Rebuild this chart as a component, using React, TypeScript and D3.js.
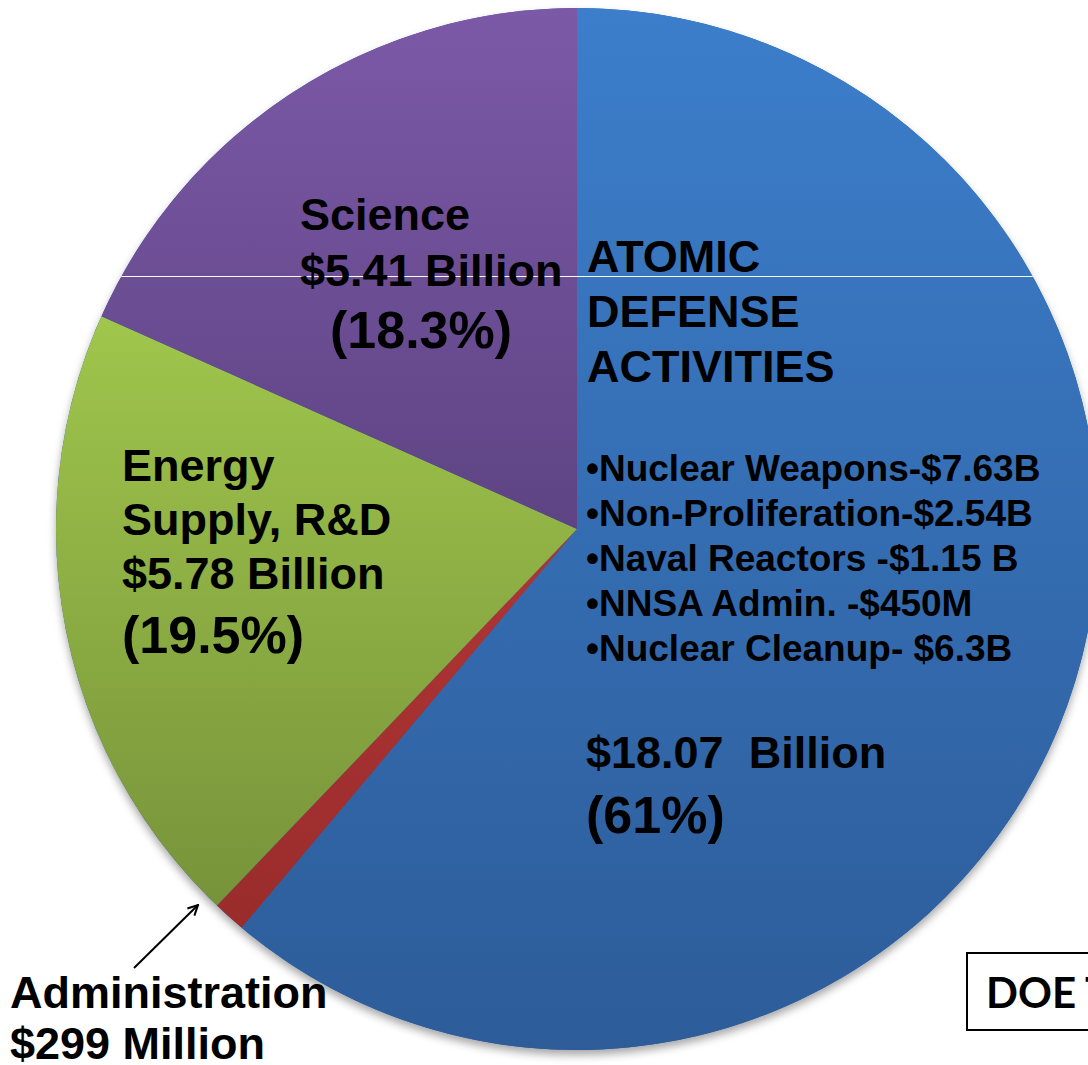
import React from "react";
import * as d3 from "d3";

const categories = ["Atomic Defense Activities", "Administration", "Energy Supply, R&D", "Science"];
const values = [18.07, 0.299, 5.78, 5.41];
const topColors = ["#3C7ECB", "#B03535", "#A0C64C", "#7C59A7"];
const bottomColors = ["#2D5C99", "#9A2C2C", "#77933A", "#5E4484"];

const atomicTitle = ["ATOMIC", "DEFENSE", "ACTIVITIES"];
const atomicItems = [
  "•Nuclear Weapons-$7.63B",
  "•Non-Proliferation-$2.54B",
  "•Naval Reactors -$1.15 B",
  "•NNSA Admin. -$450M",
  "•Nuclear Cleanup- $6.3B",
];
const atomicTotal = ["$18.07  Billion", "(61%)"];
const scienceLabel = ["Science", "$5.41 Billion", "(18.3%)"];
const energyLabel = ["Energy", "Supply, R&D", "$5.78 Billion", "(19.5%)"];
const adminLabel = ["Administration", "$299 Million"];
const boxLabel = "DOE T";

const W = 1088;
const H = 1065;
const cx = 577;
const cy = 529;
const R = 521;
const FONT = "'Liberation Sans', Arial, sans-serif";

export default function App() {
  const pie = d3.pie<number>().sort(null).value((d) => d)(values);
  const arc = d3.arc<d3.PieArcDatum<number>>().innerRadius(0).outerRadius(R);
  const chordY = 276.5;
  const half = Math.sqrt(R * R - (chordY - cy) * (chordY - cy));

  return (
    <svg width={W} height={H} style={{ position: "absolute", left: 0, top: 0, background: "#fff" }}>
      <defs>
        {categories.map((c, i) => (
          <linearGradient key={c} id={`g${i}`} x1="0" y1="0" x2="0" y2="1">
            <stop offset="0" stopColor={topColors[i]} />
            <stop offset="1" stopColor={bottomColors[i]} />
          </linearGradient>
        ))}
        <filter id="shadow" x="-10%" y="-10%" width="120%" height="120%">
          <feDropShadow dx="0" dy="5" stdDeviation="4" floodColor="#000" floodOpacity="0.35" />
        </filter>
        <marker id="arrow" viewBox="0 0 12 12" refX="11" refY="6" markerWidth="12" markerHeight="12" markerUnits="userSpaceOnUse" orient="auto">
          <path d="M1,1 L11,6 L1,11" fill="none" stroke="#000" strokeWidth="2" />
        </marker>
      </defs>
      <g transform={`translate(${cx},${cy})`}>
        <circle r={R} fill="#2D5C99" filter="url(#shadow)" />
        {pie.map((d, i) => (
          <path key={categories[i]} d={arc(d) || ""} fill={`url(#g${i})`} />
        ))}
        <line x1={-half} x2={half} y1={chordY - cy} y2={chordY - cy} stroke="#fff" strokeWidth={1} />
      </g>

      <g fontFamily={FONT} fontWeight="bold" fill="#000">
        {scienceLabel.map((t, i) => (
          <text key={t} x={i === 2 ? 330 : 300} y={[230, 286, 348][i]} fontSize={i === 2 ? 52 : 45}>
            {t}
          </text>
        ))}
        {atomicTitle.map((t, i) => (
          <text key={t} x={587} y={272 + i * 55} fontSize={45}>
            {t}
          </text>
        ))}
        {atomicItems.map((t, i) => (
          <text key={t} x={586} y={481 + i * 45} fontSize={37}>
            {t}
          </text>
        ))}
        {atomicTotal.map((t, i) => (
          <text key={t} x={586} y={[768, 833][i]} fontSize={i === 1 ? 52 : 45} style={{ whiteSpace: "pre" }}>
            {t}
          </text>
        ))}
        {energyLabel.map((t, i) => (
          <text key={t} x={122} y={[481, 535, 589, 653][i]} fontSize={i === 3 ? 52 : 45}>
            {t}
          </text>
        ))}
        {adminLabel.map((t, i) => (
          <text key={t} x={10} y={[1008, 1059][i]} fontSize={45}>
            {t}
          </text>
        ))}
      </g>

      <line x1={134} y1={968} x2={198} y2={905} stroke="#000" strokeWidth={2} markerEnd="url(#arrow)" />

      <rect x={967} y={953} width={140} height={77} fill="#fff" stroke="#000" strokeWidth={2} />
      <text x={986} y={1008} fontFamily="Lato, 'Open Sans', sans-serif" fontWeight="bold" fontSize={42} fill="#000">
        {boxLabel}
      </text>
    </svg>
  );
}
